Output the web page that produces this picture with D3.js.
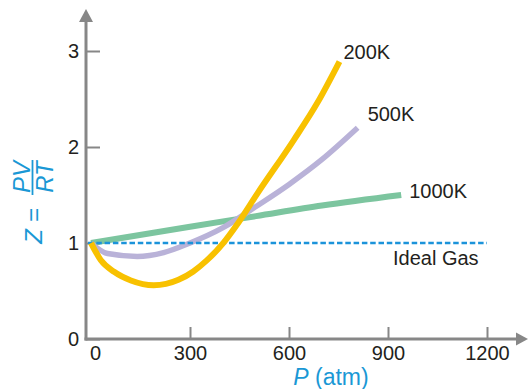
<!DOCTYPE html>
<html>
<head>
<meta charset="utf-8">
<script src="https://cdn.jsdelivr.net/npm/d3@7"></script>
<style>
  html, body { margin: 0; padding: 0; background: #fff; }
  svg { display: block; font-family: "Liberation Sans", Arial, sans-serif; }
</style>
</head>
<body>
<svg id="chart" width="529" height="389"></svg>
<script>
// values
const pTicks = [0, 300, 600, 900, 1200]
const zTicks = [0, 1, 2, 3]

const p200 = [0, 30, 70, 121, 190, 265, 310, 350, 400, 440, 505, 614, 686, 753]
const z200 = [1.0, 0.82, 0.7, 0.61, 0.56, 0.617, 0.704, 0.816, 0.996, 1.18, 1.52, 2.07, 2.46, 2.89]

const p500 = [0, 50, 140, 220, 300, 400, 500, 600, 700, 808]
const z500 = [1.0, 0.89, 0.86, 0.9, 1.0, 1.16, 1.38, 1.61, 1.87, 2.2]

const p1000 = [0, 300, 500, 700, 940]
const z1000 = [1.0, 1.17, 1.28, 1.39, 1.5]

const pIdeal = [0, 1200]
const zIdeal = [1, 1]

const seriesNames = ['1000K', '500K', 'Ideal Gas', '200K']

const ink = '#231f20'
const axisGrey = '#878787'
const blue = '#1a98d5'

let svg = d3.select('#chart')

let x = d3.scaleLinear().domain([0, 1200]).range([91, 487])
let y = d3.scaleLinear().domain([0, 3]).range([339, 51])
let axisX = x(0) - 5

let zip = (ps, zs) => ps.map((p, i) => [p, zs[i]])
let line = d3.line()
    .x(d => x(d[0]))
    .y(d => y(d[1]))
    .curve(d3.curveMonotoneX)

// axes
let yAxis = svg.append('g')
    .attr('transform', `translate(${axisX},0)`)
    .call(d3.axisLeft(y).tickValues(zTicks).tickSize(-14).tickPadding(7).tickFormat(d3.format('d')))
    .attr('font-family', null).attr('font-size', null)
yAxis.select('.domain').remove()
yAxis.selectAll('line').attr('stroke', axisGrey).attr('stroke-width', 2)
yAxis.selectAll('text').attr('fill', ink).attr('font-size', 20)

let xAxis = svg.append('g')
    .attr('transform', `translate(0,${y(0)})`)
    .call(d3.axisBottom(x).tickValues(pTicks).tickSize(-12).tickPadding(7).tickFormat(d3.format('d')))
    .attr('font-family', null).attr('font-size', null)
xAxis.select('.domain').remove()
xAxis.selectAll('line').attr('stroke', axisGrey).attr('stroke-width', 2)
    .filter(d => d === 0).remove()
xAxis.selectAll('text').attr('fill', ink).attr('font-size', 20)
    .filter(d => d === 0).attr('dx', 4)

// axis lines with arrowheads
svg.append('line')
    .attr('x1', axisX).attr('y1', y(0) + 1.5)
    .attr('x2', axisX).attr('y2', 20)
    .attr('stroke', axisGrey).attr('stroke-width', 3)
svg.append('path')
    .attr('d', `M${axisX},9 L${axisX - 7},22 L${axisX + 7},22 Z`)
    .attr('fill', axisGrey)
svg.append('line')
    .attr('x1', axisX - 1.5).attr('y1', y(0))
    .attr('x2', 518).attr('y2', y(0))
    .attr('stroke', axisGrey).attr('stroke-width', 3)
svg.append('path')
    .attr('d', `M528,${y(0)} L516,${y(0) - 6.5} L516,${y(0) + 6.5} Z`)
    .attr('fill', axisGrey)

// curves
let series = [
    {name: seriesNames[0], data: zip(p1000, z1000), color: '#7cc59f', width: 6, dash: null, dx: 8, dy: 3},
    {name: seriesNames[1], data: zip(p500, z500), color: '#b9b2d8', width: 5.5, dash: null, dx: 10, dy: -7},
    {name: seriesNames[2], data: zip(pIdeal, zIdeal), color: '#1b93da', width: 2.6, dash: '5.5,2.8', dx: -94, dy: 22},
    {name: seriesNames[3], data: zip(p200, z200), color: '#f8c100', width: 6, dash: null, dx: 4, dy: -3},
]

svg.selectAll('path.curve')
    .data(series)
    .join('path')
    .attr('class', 'curve')
    .attr('d', d => d.dash ? `M${x(d.data[0][0]) - 3},${y(d.data[0][1])}H${x(d.data[1][0])}` : line(d.data))
    .attr('fill', 'none')
    .attr('stroke', d => d.color)
    .attr('stroke-width', d => d.width)
    .attr('stroke-dasharray', d => d.dash)

svg.selectAll('text.lbl')
    .data(series)
    .join('text')
    .attr('class', 'lbl')
    .text(d => d.name)
    .attr('x', d => x(d.data[d.data.length - 1][0]) + d.dx)
    .attr('y', d => y(d.data[d.data.length - 1][1]) + d.dy)
    .attr('fill', ink)
    .attr('font-size', 20)

// axis titles
let xt = svg.append('text')
    .attr('x', 331).attr('y', 385)
    .attr('text-anchor', 'middle')
    .attr('fill', blue)
    .attr('font-size', 23)
xt.append('tspan').attr('font-style', 'italic').text('P')
xt.append('tspan').text(' (atm)')

let yt = svg.append('g').attr('transform', 'rotate(-90)')
yt.append('text')
    .attr('x', -226).attr('y', 42)
    .attr('text-anchor', 'middle')
    .attr('fill', blue).attr('font-size', 24).attr('font-style', 'italic')
    .text('Z =')
yt.append('text')
    .attr('x', -177).attr('y', 30)
    .attr('text-anchor', 'middle')
    .attr('fill', blue).attr('font-size', 24).attr('font-style', 'italic')
    .text('PV')
yt.append('text')
    .attr('x', -177).attr('y', 53)
    .attr('text-anchor', 'middle')
    .attr('fill', blue).attr('font-size', 24).attr('font-style', 'italic')
    .text('RT')
yt.append('line')
    .attr('x1', -160).attr('x2', -195)
    .attr('y1', 32.5).attr('y2', 32.5)
    .attr('stroke', blue).attr('stroke-width', 1.8)
</script>
</body>
</html>
